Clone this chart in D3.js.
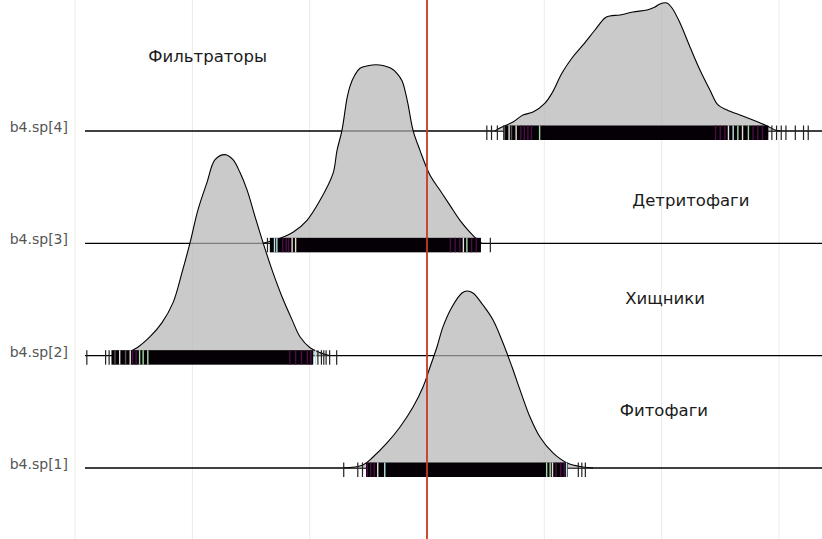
<!DOCTYPE html>
<html>
<head>
<meta charset="utf-8">
<script src="https://d3js.org/d3.v7.min.js"></script>
<style>
  body { margin: 0; background: #fff; }
  svg { display: block; }
</style>
</head>
<body>
<svg width="822" height="539"></svg>
<script>
// ridge names, bottom to top
var ridges = ["b4.sp[1]", "b4.sp[2]", "b4.sp[3]", "b4.sp[4]"];

// vertical grid values (x units) and the reference line
var gridValues = [-3, -2, -1, 0, 1, 2, 3];
var refLine = 0;

// density outlines: [x, height in ridge units]
var dens1 = [[-0.716,0],[-0.546,0.027],[-0.460,0.098],[-0.341,0.223],[-0.230,0.365],[-0.119,0.543],[-0.034,0.721],[0.026,0.899],[0.085,1.077],[0.136,1.256],[0.213,1.434],[0.298,1.558],[0.341,1.576],[0.392,1.558],[0.477,1.451],[0.563,1.318],[0.648,1.113],[0.725,0.899],[0.793,0.695],[0.878,0.454],[0.963,0.276],[1.074,0.134],[1.194,0.045],[1.330,0.009],[1.415,0]];
var dens2 = [[-2.643,0],[-2.558,0.027],[-2.472,0.071],[-2.361,0.169],[-2.259,0.294],[-2.165,0.472],[-2.089,0.739],[-2.020,1.006],[-1.952,1.300],[-1.876,1.541],[-1.807,1.745],[-1.722,1.790],[-1.654,1.745],[-1.594,1.630],[-1.535,1.478],[-1.466,1.238],[-1.398,1.006],[-1.313,0.739],[-1.236,0.525],[-1.151,0.321],[-1.083,0.169],[-0.997,0.071],[-0.912,0.027],[-0.827,0]];
var dens3 = [[-1.398,0],[-1.253,0.045],[-1.142,0.098],[-1.023,0.205],[-0.912,0.383],[-0.801,0.623],[-0.767,0.828],[-0.725,1.006],[-0.682,1.290],[-0.656,1.400],[-0.614,1.500],[-0.571,1.558],[-0.503,1.581],[-0.435,1.590],[-0.367,1.581],[-0.307,1.558],[-0.256,1.514],[-0.213,1.447],[-0.188,1.362],[-0.162,1.240],[-0.119,1.006],[-0.060,0.828],[0.026,0.606],[0.111,0.472],[0.196,0.338],[0.281,0.205],[0.367,0.098],[0.435,0.027],[0.469,0]];
var dens4 = [[0.580,0],[0.622,0.027],[0.733,0.080],[0.818,0.142],[0.904,0.169],[1.006,0.249],[1.066,0.338],[1.151,0.516],[1.236,0.650],[1.330,0.766],[1.432,0.899],[1.517,1.006],[1.560,1.024],[1.645,1.033],[1.756,1.060],[1.876,1.077],[1.944,1.104],[1.986,1.131],[2.046,1.140],[2.089,1.095],[2.157,0.962],[2.242,0.748],[2.327,0.543],[2.412,0.365],[2.481,0.232],[2.558,0.187],[2.668,0.142],[2.779,0.098],[2.899,0.045],[2.967,0.009],[3.009,0]];

// dense rug band [from, to]
var band1 = [-0.52, 1.20];
var band2 = [-2.69, -0.97];
var band3 = [-1.34, 0.46];
var band4 = [0.65, 2.91];

// sparse rug ticks outside the dense band
var sparse1 = [-0.71, -0.59, -0.55, 1.29, 1.32, 1.35];
var sparse2 = [-2.90, -2.74, -2.71, -0.93, -0.90, -0.88, -0.86, -0.83, -0.77];
var sparse3 = [-1.36, 0.54];
var sparse4 = [0.51, 0.55, 0.60, 2.94, 2.98, 3.02, 3.06, 3.14, 3.21, 3.25];

// coloured rug ticks inside the band: [x, kind]
var col1 = [[-0.51,"p"],[-0.48,"p"],[-0.45,"p"],[-0.42,"l"],[-0.36,"c"],[1.02,"g"],[1.05,"g"],[1.07,"l"],[1.10,"p"],[1.14,"p"],[1.17,"p"],[1.19,"c"]];
var col2 = [[-2.66,"k"],[-2.62,"l"],[-2.57,"k"],[-2.53,"l"],[-2.51,"p"],[-2.48,"p"],[-2.45,"g"],[-2.42,"g"],[-2.38,"g"],[-1.17,"p"],[-1.12,"p"],[-1.07,"p"],[-1.02,"p"],[-0.99,"p"],[-0.95,"c"]];
var col3 = [[-1.30,"c"],[-1.28,"c"],[-1.23,"p"],[-1.20,"p"],[-1.18,"p"],[-1.15,"l"],[-1.12,"l"],[0.20,"p"],[0.24,"p"],[0.28,"p"],[0.31,"l"],[0.34,"g"],[0.38,"p"],[0.42,"p"]];
var col4 = [[0.66,"k"],[0.70,"l"],[0.72,"k"],[0.76,"l"],[0.80,"p"],[0.83,"p"],[0.86,"p"],[0.89,"p"],[0.96,"g"],[2.46,"p"],[2.50,"p"],[2.54,"p"],[2.57,"l"],[2.61,"c"],[2.65,"g"],[2.69,"l"],[2.74,"g"],[2.78,"p"],[2.82,"p"],[2.86,"p"]];

// group labels: [text, ridge, x, offset in ridge units]
var labels = [
  ["Фильтраторы", "b4.sp[4]", -1.87, 0.61],
  ["Детритофаги", "b4.sp[3]", 2.25, 0.33],
  ["Хищники", "b4.sp[2]", 2.03, 0.46],
  ["Фитофаги", "b4.sp[1]", 2.02, 0.46]
];

var series = [
  {name: ridges[3], dens: dens4, band: band4, sparse: sparse4, col: col4},
  {name: ridges[2], dens: dens3, band: band3, sparse: sparse3, col: col3},
  {name: ridges[1], dens: dens2, band: band2, sparse: sparse2, col: col2},
  {name: ridges[0], dens: dens1, band: band1, sparse: sparse1, col: col1}
];

var tickColor = {p: "#4a0f45", l: "#e6e0d6", c: "#b8e4e6", g: "#a6dcaa", k: "#555555"};

var svg = d3.select("svg");
var W = 822, H = 539;

var x = d3.scaleLinear().domain([-3, 3]).range([75.1, 778.9]);
var y = d3.scalePoint().domain(ridges).range([468, 131]);
var step = y.step();
var h = d3.scaleLinear().domain([0, 1]).range([0, step]);

// vertical grid
svg.append("g").selectAll("line").data(gridValues).enter().append("line")
   .attr("x1", function(d) {return x(d);}).attr("x2", function(d) {return x(d);})
   .attr("y1", 0).attr("y2", H)
   .style("stroke", "#ebebeb").style("stroke-width", 1);

// baselines
svg.append("g").selectAll("line").data(ridges).enter().append("line")
   .attr("x1", 85).attr("x2", W)
   .attr("y1", function(d) {return y(d);}).attr("y2", function(d) {return y(d);})
   .style("stroke", "#000").style("stroke-width", 1.3);

// y labels
svg.append("g").selectAll("text").data(ridges).enter().append("text")
   .attr("x", 68).attr("y", function(d) {return y(d) + 1;})
   .attr("text-anchor", "end")
   .style("font-family", "DejaVu Sans, sans-serif")
   .style("font-size", "14px")
   .style("fill", "#555")
   .text(function(d) {return d;});

// densities, top ridge first
series.forEach(function(s) {
    var base = y(s.name);
    var area = d3.area().curve(d3.curveCatmullRom)
        .x(function(d) {return x(d[0]);})
        .y0(base)
        .y1(function(d) {return base - h(d[1]);});
    var line = d3.line().curve(d3.curveCatmullRom)
        .x(function(d) {return x(d[0]);})
        .y(function(d) {return base - h(d[1]);});
    svg.append("path").datum(s.dens).attr("d", area)
       .style("fill", "#b3b3b3").style("fill-opacity", 0.7);
    svg.append("path").datum(s.dens).attr("d", line)
       .style("fill", "none").style("stroke", "#000").style("stroke-width", 1.1);
});

// rugs
series.forEach(function(s) {
    var base = y(s.name);
    var g = svg.append("g");
    g.append("rect")
     .attr("x", x(s.band[0])).attr("width", x(s.band[1]) - x(s.band[0]))
     .attr("y", base - 5.5).attr("height", 14.5)
     .style("fill", "#050005");
    g.selectAll("line.sp").data(s.sparse).enter().append("line")
     .attr("x1", function(d) {return x(d);}).attr("x2", function(d) {return x(d);})
     .attr("y1", base - 5.5).attr("y2", base + 9)
     .style("stroke", "#222").style("stroke-width", 1.2);
    g.selectAll("line.cl").data(s.col).enter().append("line")
     .attr("x1", function(d) {return x(d[0]);}).attr("x2", function(d) {return x(d[0]);})
     .attr("y1", base - 5.5).attr("y2", base + 9)
     .style("stroke", function(d) {return tickColor[d[1]];}).style("stroke-width", 1.4);
});

// group labels
svg.append("g").selectAll("text").data(labels).enter().append("text")
   .attr("x", function(d) {return x(d[2]);})
   .attr("y", function(d) {return y(d[1]) - h(d[3]);})
   .attr("text-anchor", "middle")
   .style("font-family", "DejaVu Sans, sans-serif")
   .style("font-size", "16.5px")
   .style("fill", "#1a1a1a")
   .text(function(d) {return d[0];});

// reference line
svg.append("line")
   .attr("x1", x(refLine)).attr("x2", x(refLine))
   .attr("y1", 0).attr("y2", H)
   .style("stroke", "#c43c28").style("stroke-width", 1.8);
</script>
</body>
</html>
